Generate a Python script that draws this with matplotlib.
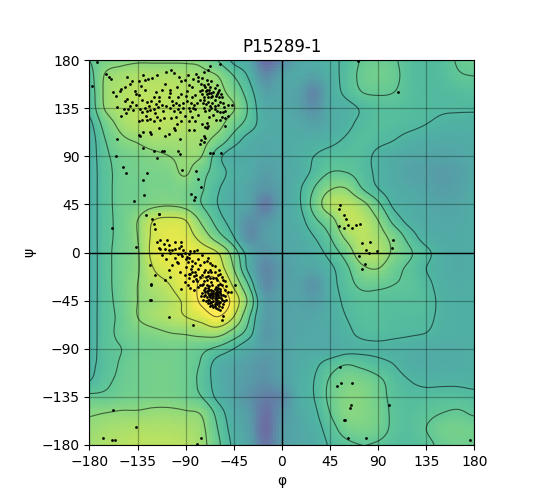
import numpy as np
import matplotlib
matplotlib.use("Agg")
import matplotlib.pyplot as plt

title = "P15289-1"
ticks = list(range(-180, 181, 45))

# density read off the background, nodes every 15 deg
# rows: psi = 180 ... -180, columns: phi = -180 ... 180
grid_deg = np.arange(-180, 181, 15)
density = np.array([
    [0.60,0.66,0.68,0.69,0.69,0.69,0.69,0.68,0.60,0.50,0.44,0.18,0.30,0.44,0.47,0.50,0.54,0.61,0.63,0.61,0.56,0.54,0.56,0.61,0.63],
    [0.57,0.71,0.74,0.76,0.76,0.76,0.75,0.73,0.70,0.60,0.50,0.32,0.42,0.45,0.42,0.48,0.55,0.62,0.64,0.62,0.56,0.54,0.55,0.59,0.60],
    [0.55,0.72,0.76,0.78,0.78,0.78,0.77,0.76,0.73,0.66,0.55,0.42,0.44,0.42,0.30,0.46,0.54,0.60,0.61,0.60,0.56,0.54,0.54,0.55,0.56],
    [0.54,0.71,0.76,0.78,0.79,0.78,0.77,0.76,0.74,0.705,0.58,0.45,0.45,0.42,0.34,0.46,0.49,0.53,0.56,0.56,0.55,0.54,0.53,0.53,0.53],
    [0.50,0.64,0.73,0.77,0.78,0.78,0.77,0.75,0.73,0.64,0.56,0.47,0.46,0.45,0.42,0.46,0.50,0.54,0.56,0.55,0.54,0.52,0.50,0.49,0.49],
    [0.48,0.60,0.68,0.71,0.74,0.74,0.74,0.73,0.66,0.56,0.48,0.45,0.46,0.47,0.48,0.50,0.53,0.56,0.54,0.52,0.49,0.47,0.46,0.46,0.47],
    [0.48,0.58,0.64,0.66,0.68,0.70,0.72,0.70,0.55,0.47,0.46,0.44,0.45,0.48,0.52,0.55,0.56,0.55,0.50,0.47,0.45,0.44,0.43,0.44,0.46],
    [0.48,0.57,0.63,0.65,0.66,0.67,0.71,0.63,0.56,0.49,0.46,0.40,0.44,0.47,0.54,0.60,0.60,0.56,0.50,0.46,0.43,0.41,0.39,0.41,0.45],
    [0.48,0.57,0.63,0.64,0.66,0.66,0.66,0.61,0.53,0.47,0.43,0.36,0.42,0.50,0.60,0.69,0.70,0.60,0.52,0.47,0.45,0.43,0.40,0.42,0.46],
    [0.48,0.57,0.63,0.65,0.68,0.69,0.67,0.60,0.52,0.46,0.42,0.25,0.42,0.50,0.63,0.76,0.78,0.73,0.62,0.50,0.47,0.45,0.43,0.44,0.47],
    [0.48,0.57,0.63,0.70,0.80,0.82,0.80,0.68,0.56,0.47,0.34,0.36,0.44,0.48,0.58,0.66,0.78,0.78,0.70,0.57,0.49,0.46,0.45,0.45,0.47],
    [0.48,0.57,0.63,0.70,0.82,0.85,0.84,0.76,0.64,0.52,0.32,0.40,0.44,0.46,0.52,0.60,0.72,0.78,0.74,0.66,0.56,0.48,0.46,0.46,0.47],
    [0.48,0.57,0.64,0.69,0.83,0.86,0.87,0.85,0.80,0.65,0.46,0.36,0.43,0.45,0.48,0.55,0.64,0.76,0.76,0.68,0.61,0.54,0.48,0.46,0.47],
    [0.48,0.57,0.64,0.69,0.80,0.84,0.87,0.88,0.85,0.70,0.48,0.30,0.38,0.44,0.44,0.50,0.58,0.68,0.70,0.63,0.58,0.52,0.48,0.46,0.47],
    [0.48,0.57,0.64,0.70,0.76,0.80,0.86,0.91,0.92,0.78,0.58,0.32,0.40,0.42,0.36,0.48,0.56,0.62,0.62,0.60,0.58,0.54,0.49,0.47,0.48],
    [0.48,0.57,0.63,0.70,0.73,0.77,0.82,0.92,0.98,0.86,0.66,0.40,0.42,0.43,0.40,0.47,0.54,0.57,0.57,0.56,0.56,0.55,0.50,0.48,0.48],
    [0.48,0.57,0.62,0.70,0.74,0.77,0.80,0.84,0.90,0.80,0.60,0.40,0.42,0.44,0.44,0.47,0.52,0.56,0.56,0.55,0.55,0.54,0.50,0.48,0.48],
    [0.48,0.57,0.62,0.66,0.68,0.70,0.71,0.73,0.74,0.66,0.55,0.38,0.42,0.44,0.45,0.46,0.50,0.54,0.55,0.54,0.53,0.52,0.49,0.48,0.48],
    [0.48,0.57,0.60,0.63,0.64,0.65,0.64,0.62,0.58,0.52,0.45,0.40,0.42,0.45,0.46,0.46,0.49,0.50,0.50,0.49,0.48,0.47,0.47,0.47,0.48],
    [0.50,0.56,0.61,0.64,0.65,0.65,0.63,0.59,0.48,0.44,0.40,0.36,0.42,0.46,0.50,0.56,0.60,0.58,0.55,0.52,0.48,0.47,0.47,0.47,0.48],
    [0.52,0.58,0.62,0.64,0.65,0.65,0.63,0.58,0.48,0.43,0.38,0.34,0.40,0.47,0.52,0.61,0.66,0.66,0.62,0.56,0.52,0.50,0.50,0.50,0.49],
    [0.62,0.62,0.64,0.65,0.66,0.66,0.64,0.60,0.50,0.43,0.34,0.26,0.30,0.46,0.52,0.62,0.68,0.68,0.64,0.57,0.55,0.55,0.56,0.56,0.55],
    [0.69,0.70,0.71,0.71,0.72,0.72,0.71,0.69,0.57,0.46,0.38,0.20,0.35,0.45,0.50,0.60,0.68,0.68,0.65,0.58,0.56,0.58,0.60,0.61,0.59],
    [0.72,0.74,0.75,0.76,0.76,0.76,0.75,0.72,0.60,0.48,0.40,0.18,0.38,0.44,0.48,0.56,0.64,0.66,0.64,0.58,0.56,0.60,0.64,0.65,0.64],
    [0.74,0.76,0.77,0.78,0.78,0.78,0.77,0.73,0.62,0.50,0.42,0.22,0.38,0.44,0.47,0.53,0.58,0.60,0.59,0.56,0.55,0.58,0.62,0.64,0.63],
])
levels = [0.52, 0.60, 0.70, 0.80, 0.90]

# residues (phi, psi)
beta_pts = [
    (-173,178),(-108,169),(-104,171),(-101,168),(-80,167),(-73,169),(-69,171),(-67,174),(-58,176),
    (-164,167),(-162,164),(-160,162),(-140,160),(-142,158),(-147,155),(-151,151),(-150,153),
    (-134,160),(-128,161),(-125,162),(-121,163),(-109,158),(-105,152),(-94,160),(-91,161),(-87,157),
    (-83,162),(-78,160),(-75,163),(-73,157),(-70,161),(-69,158),(-67,155),(-66,160),(-63,154),(-61,157),
    (-75,152),(-71,151),(-68,152),(-59,152),(-137,151),(-136,148),(-134,147),(-145,144),(-147,142),
    (-140,141),(-131,143),(-126,141),(-120,145),(-122,142),(-115,145),(-115,142),(-105,149),(-106,145),
    (-103,142),(-97,145),(-94,148),(-89,151),(-84,145),(-81,147),(-77,151),(-75,148),(-73,145),(-70,148),
    (-69,145),(-66,149),(-65,146),(-63,143),(-61,148),(-58,141),(-56,145),(-50,138),(-47,138),(-73,143),
    (-69,141),(-65,140),(-154,136),(-148,134),(-144,134),(-139,133),(-133,134),(-131,131),(-126,132),
    (-123,133),(-120,134),(-134,123),(-131,124),(-126,124),(-123,125),(-120,123),(-114,124),(-119,130),
    (-111,132),(-105,135),(-101,132),(-97,134),(-95,131),(-92,135),(-87,135),(-86,132),(-83,135),(-81,134),
    (-78,129),(-73,135),(-72,132),(-68,133),(-66,135),(-63,134),(-61,132),(-58,131),(-55,131),(-53,132),
    (-62,124),(-58,124),(-53,126),(-87,123),(-81,123),(-94,123),(-70,121),(-134,110),(-133,109),(-130,113),
    (-123,113),(-122,111),(-115,116),(-109,109),(-106,111),(-101,116),(-100,115),(-98,120),(-87,115),
    (-82,115),(-75,120),(-72,117),(-70,116),(-69,118),(-53,118),(-73,109),(-76,105),(-72,107),(-130,98),
    (-120,95),(-117,88),(-112,95),(-110,95),(-97,95),(-95,106),(-95,92),(-77,101),(-73,103),(-67,93),
    (-64,93),(-57,93),
    (-78,164),(-76,158),(-72,155),(-70,152),(-68,149),(-66,145),(-64,150),(-62,146),(-60,150),(-59,145),
    (-57,148),(-55,140),(-54,136),(-60,138),(-63,137),(-67,137),(-71,139),(-74,140),(-77,143),(-79,140),
    (-82,138),(-85,140),(-89,142),(-92,140),(-96,138),(-99,140),(-102,138),(-108,137),(-112,138),(-116,136),
    (-118,139),(-124,137),(-128,135),(-136,138),(-142,137),(-146,130),(-150,128),(-127,128),(-117,127),
    (-110,126),(-104,126),(-99,127),(-91,128),(-84,127),(-68,127),(-64,129),(-56,127),(-50,128),(-118,150),
    (-112,152),(-98,155),(-90,146),(-84,155),(-128,152),(-132,156),(-155,146),(-158,150),(-145,164),
    (-130,166),(-117,166),(-96,164),(-88,166),
]
alpha_pts = [
    (-127,35),(-115,36),(-121,31),(-120,27),(-119,22),(-117,10),(-114,12),(-115,4),(-114,3),(-107,12),
    (-106,7),(-100,10),(-94,10),(-94,6),(-109,3),(-106,2),(-105,0),(-103,2),(-97,-1),(-92,2),(-91,0),
    (-87,-1),(-86,1),(-82,1),(-79,2),(-94,-1),(-89,-4),(-78,-6),(-73,-9),(-70,-8),(-69,-5),(-67,-10),
    (-65,-12),(-63,-13),(-81,-10),(-87,-5),(-84,-13),(-78,-15),(-72,-16),(-73,-18),(-69,-18),(-67,-16),
    (-66,-18),(-63,-18),(-59,-16),(-58,-20),(-56,-23),(-55,-26),(-53,-27),(-58,-29),(-61,-26),(-64,-24),
    (-67,-24),(-70,-26),(-73,-27),(-77,-23),(-80,-21),(-81,-18),(-84,-18),(-87,-20),(-91,-21),(-87,-24),
    (-83,-27),(-78,-32),(-75,-30),(-69,-33),(-72,-37),(-67,-40),(-64,-38),(-61,-35),(-58,-34),(-53,-35),
    (-50,-37),(-52,-44),(-55,-48),(-56,-51),(-58,-54),(-62,-44),(-66,-46),(-69,-44),(-73,-41),(-86,-33),
    (-94,-34),(-97,-10),(-98,-9),(-103,-12),(-106,-16),(-109,-26),(-105,-23),(-119,-21),(-122,-30),
    (-123,-12),(-123,-44),(-106,-60),(-83,-68),(-44,-30),(-48,-37),(-55,-59),(-56,-63),(-53,-41),
    (-66,-38),(-65,-40),(-63,-39),(-62,-41),(-61,-43),(-63,-43),(-65,-43),(-67,-42),(-64,-45),(-62,-46),
    (-60,-45),(-66,-46),(-68,-40),(-69,-38),(-60,-40),(-59,-42),(-58,-46),(-61,-48),(-63,-48),(-65,-49),
    (-59,-50),(-62,-52),(-57,-40),(-70,-42),(-64,-36),(-62,-37),(-66,-35),(-60,-37),(-68,-44),(-56,-44),
    (-63,-50),(-60,-53),(-64,-41),(-61,-39),(-67,-47),(-58,-38),(-70,-36),(-72,-33),(-68,-31),(-65,-30),
    (-62,-32),(-60,-30),(-74,-29),(-71,-23),(-75,-21),(-60,-21),(-56,-30),(-52,-31),(-77,-12),(-84,-8),
    (-90,-14),(-80,-25),(-82,-35),(-76,-41),(-74,-44),(-86,-20),(-88,-9),(-75,-2),(-69,-22),(-62,-24),
    (-70,-30),(-68,-35),(-66,-28),(-63,-34),(-60,-33),(-58,-36),(-57,-43),(-55,-40),(-54,-45),(-59,-47),
    (-64,-51),(-67,-50),(-69,-47),(-71,-45),(-72,-40),(-73,-35),(-75,-38),(-77,-30),(-79,-27),(-82,-22),
    (-85,-15),(-90,-6),(-93,-3),(-100,3),(-96,4),(-110,8),(-112,-2),(-108,-6),(-100,-5),(-95,-18),
    (-91,-28),(-88,-30),
]
other_pts = [
    (-178,156),(-154,106),(-155,90),(-149,80),(-146,74),(-130,68),(-126,74),(-129,54),(-138,48),
    (-159,23),(-136,5),(-85,55),(-81,52),(-82,49),(-76,61),(-80,76),(-78,69),(-93,77),
    (-122,-29),(-122,-44),(-115,36),
    (54,44),(53,41),(58,35),(60,31),(62,26),(53,25),(58,23),(66,23),(69,26),(73,27),(75,9),(82,10),
    (72,-3),(79,2),(81,0),(89,1),(103,4),(104,12),(78,-11),(75,-15),
    (71,179),(109,150),
    (54,-107),(55,-122),(52,-125),(66,-122),(65,-143),(64,-145),(59,-157),(58,-157),(100,-143),
    (62,-173),(79,-173),(176,-175),
    (-158,-147),(-136,-163),(-167,-173),(-159,-175),(-156,-175),(-76,-173),(-79,-179),
]


def cubic_weights(n_nodes, u):
    # Catmull-Rom interpolation matrix from node index positions u
    w = np.zeros((len(u), n_nodes))
    for k, x in enumerate(u):
        i = min(int(np.floor(x)), n_nodes - 2)
        t = x - i
        c = [0.5 * (-t + 2 * t**2 - t**3),
             0.5 * (2 - 5 * t**2 + 3 * t**3),
             0.5 * (t + 4 * t**2 - 3 * t**3),
             0.5 * (-t**2 + t**3)]
        for j, cj in zip(range(i - 1, i + 3), c):
            w[k, min(max(j, 0), n_nodes - 1)] += cj
    return w


z = density[::-1]  # psi ascending
n = len(grid_deg)

# coarse pixels of the picture (2.5 deg)
pix = np.arange(-178.75, 180, 2.5)
wp = cubic_weights(n, (pix + 180) / 15.0)
img = wp @ z @ wp.T

# finer field for the contour lines
fine = np.linspace(-180, 180, 361)
wf = cubic_weights(n, (fine + 180) / 15.0)
zf = wf @ z @ wf.T

fig = plt.figure(figsize=(5.5, 5.0), dpi=100)
ax = fig.add_subplot(111)
ax.imshow(img, extent=[-180, 180, -180, 180], origin="lower", cmap="viridis",
          vmin=0, vmax=0.9, alpha=0.78, interpolation="nearest")
ax.contour(fine, fine, zf, levels=levels, colors="k", linewidths=0.8, alpha=0.55)

all_pts = beta_pts + alpha_pts + other_pts
ax.scatter([p[0] for p in all_pts], [p[1] for p in all_pts], s=4, c="k", linewidths=0)

ax.axhline(0, color="k", lw=1)
ax.axvline(0, color="k", lw=1)
ax.grid(True, color="k", alpha=0.3, linewidth=0.9)
ax.set_xlim(-180, 180)
ax.set_ylim(-180, 180)
ax.set_xticks(ticks)
ax.set_yticks(ticks)
ax.set_aspect("equal")
ax.set_title(title)
ax.set_xlabel("φ")
ax.set_ylabel("ψ")

fig.savefig("out.png", dpi=100)
